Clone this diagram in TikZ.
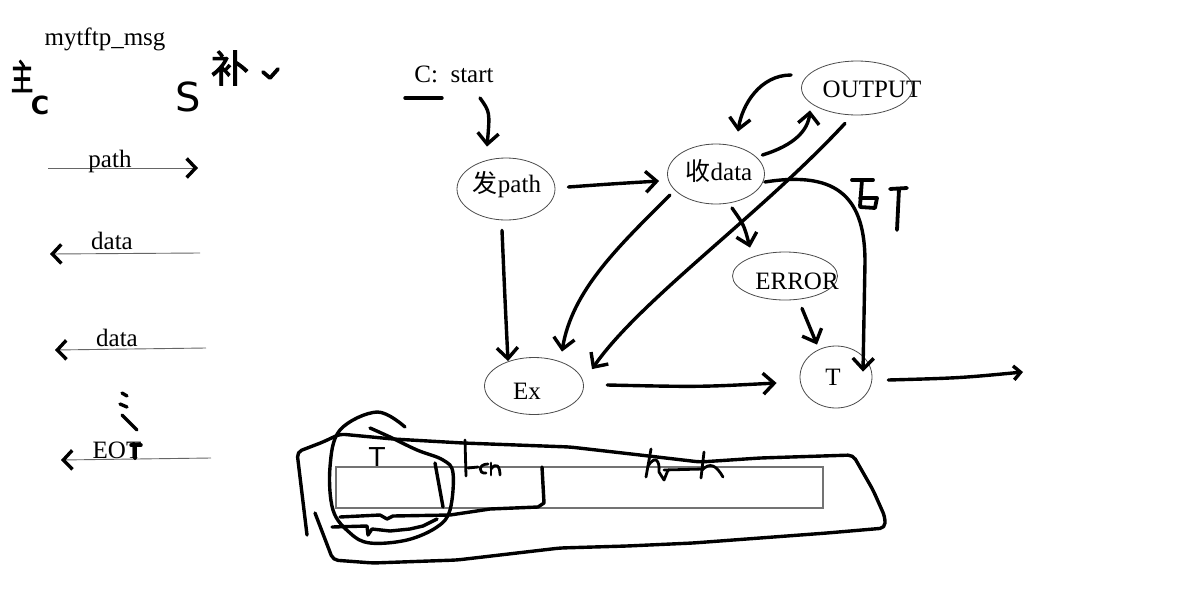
\documentclass[tikz,border=0pt]{standalone}
\usepackage{fontspec}
\setmainfont{Liberation Serif}
\newfontfamily\cjk{Noto Sans CJK SC}
\newfontfamily\cjkb{Noto Sans CJK SC}[FakeBold=2.5]
\newfontfamily\handf{DejaVu Sans}
\usetikzlibrary{shapes.geometric,arrows.meta}
\begin{document}
\begin{tikzpicture}[x=1pt,y=-1pt,
  hand/.style={line width=3.4pt,line cap=round,line join=round,black},
  thin hand/.style={hand,line width=2.8pt},
  harrow/.style={hand,-{Straight Barb[length=11pt,width=21pt]}},
  harrowS/.style={hand,-{Straight Barb[length=7pt,width=14pt]}},
  st/.style={ellipse,draw=black!70,line width=0.8pt,inner sep=0pt},
  lbl/.style={font=\fontsize{25}{29}\selectfont,inner sep=0pt,anchor=base},
  msg/.style={draw=black!60,line width=0.9pt,-{Straight Barb[color=black,line width=3.4pt,length=9pt,width=19pt]}},
  hw/.style={inner sep=0pt}]
\useasboundingbox[fill=white] (0,0) rectangle (1178,600);

% ---------------- left panel ----------------
\node[lbl] (title) at (105,45) {mytftp\_msg};
\node[hw,font=\cjkb\fontsize{36}{36}\selectfont] (zhu) at (22,76) {\scalebox{0.62}[1]{主}};
\node[hw,font=\handf\bfseries\fontsize{25}{25}\selectfont] (cC) at (40,105) {C};
\node[hw,font=\handf\fontsize{40}{40}\selectfont] (sS) at (188,97) {S};
\node[hw,font=\cjkb\fontsize{38}{38}\selectfont] (bu) at (230,68) {补};
\draw[hand,line width=3.8pt] (263,72) -- (270,78) -- (278,69);

\coordinate (m1s) at (48,168);  \coordinate (m1e) at (198,168);
\coordinate (m2s) at (200,253); \coordinate (m2e) at (50,254);
\coordinate (m3s) at (206,348); \coordinate (m3e) at (55,350);
\coordinate (m4s) at (211,458); \coordinate (m4e) at (61,460);
\draw[msg] (m1s) -- (m1e);
\draw[msg] (m2s) -- (m2e);
\draw[msg] (m3s) -- (m3e);
\draw[msg] (m4s) -- (m4e);
\node[lbl] (lpath) at (110,167) {path};
\node[lbl] (ldata1) at (112,249) {data};
\node[lbl] (ldata2) at (117,346) {data};
\node[lbl] (leot) at (117,458) {EOT};
\draw[hand,line width=3.5pt] (131,445) -- (141,445);
\draw[hand,line width=4pt] (135,445) -- (135,458);
% vertical ellipsis
\draw[hand] (122,393) -- (127,396);
\draw[hand] (120,404) -- (127,407);
\draw[hand] (122,415) -- (137,430);

% ---------------- state machine ----------------
\node[lbl] (cs) at (454,82) {C:\ \ start};
\draw[hand] (405,98) -- (442,98);

\node[st,minimum width=98pt,minimum height=62pt] (fp) at (506,189) {};
\node[lbl] (fpT) at (507,192) {{\cjk 发}path};
\node[st,minimum width=97pt,minimum height=60pt] (rd) at (716,174) {};
\node[lbl] (rdT) at (719,180) {{\cjk 收}data};
\node[st,minimum width=111pt,minimum height=54pt] (out) at (857,88) {};
\node[lbl] (outT) at (872,97) {OUTPUT};
\node[st,minimum width=105pt,minimum height=48pt] (err) at (785,276) {};
\node[lbl] (errT) at (797,289) {ERROR};
\node[st,minimum width=72pt,minimum height=62pt] (tn) at (836,377) {};
\node[lbl] (tT) at (833,385) {T};
\node[st,minimum width=99pt,minimum height=57pt] (ex) at (534,386) {};
\node[lbl] (exT) at (527,399) {Ex};
\coordinate (outEnd) at (1023,372);

\draw[harrow] ([shift={(26,16)}]cs.base) .. controls (490,112) .. ([shift={(-19,-11)}]fp.north);
\draw[harrow] ([shift={(13,-2)}]fp.east) .. controls (610,184) .. ([shift={(-8,7)}]rd.west);
\draw[harrow] ([shift={(-4,10)}]fp.south) .. controls (505,300) .. ([shift={(-26,4)}]ex.north);
\draw[harrow] ([shift={(-46,21)}]rd.center) .. controls (620,245) and (572,290) .. ([shift={(28,-5.5)}]ex.north);
\draw[harrow] ([shift={(-12,8)}]out.south) .. controls (760,215) and (640,300) .. ([shift={(58,12)}]ex.north);
\draw[harrow] ([shift={(-2.5,-19)}]rd.east) .. controls (795,145) and (808,130) .. ([shift={(-47,-5)}]out.south);
\draw[harrow] ([shift={(-10,-13)}]out.west) .. controls (760,75) and (742,105) .. ([shift={(22,-12)}]rd.north);
\draw[harrow] ([shift={(0,8)}]rd.east) .. controls (840,170) and (865,200) .. (865,262) -- ([shift={(27,26)}]tn.north);
\draw[harrow] ([shift={(16,34)}]rd.center) .. controls (744,225) .. ([shift={(-35,-4)}]err.north);
\draw[harrow] ([shift={(17,8)}]err.south) -- ([shift={(-19,-1)}]tn.north);
\draw[harrow] ([shift={(23.5,-1)}]ex.east) .. controls (700,387) .. ([shift={(-23,6)}]tn.west);
\draw[harrowS] ([shift={(16,3)}]tn.east) .. controls (960,378) .. (outEnd);

% handwritten EOT label
\draw[hand,line width=3.8pt] (852,180) -- (873,180);
\draw[hand,line width=3.8pt] (862,180) -- (860,206);
\draw[hand,line width=3.8pt] (860,198) -- (877,198) -- (875,208) -- (860,207);
\draw[hand,line width=3.8pt] (890,189) -- (907,188);
\draw[hand,line width=3.8pt] (899,189) -- (897,230);

% ---------------- bottom packet sketch ----------------
\draw[draw=black!55,line width=1.2pt] (336,467) rectangle (823,508);
\draw[hand,rounded corners=5pt] (307,535) -- (297,452) -- (323,442) -- (340,434) -- (393,439) -- (463,443)
  -- (570,447) -- (640,455) -- (700,462) -- (760,458) -- (853,455) -- (873,490) -- (885,517) -- (885,528)
  -- (827,533) -- (760,538) -- (693,543) -- (627,546) -- (560,548) -- (457,560) -- (373,563) -- (333,560) -- (315,513);
\draw[hand] plot[smooth,tension=0.6] coordinates {(405,427) (377,412) (340,430) (330,467) (333,510) (350,533)
  (370,543) (407,540) (437,527) (450,510) (453,473) (443,460) (417,450) (390,437) (370,428)};
\draw[hand] (340,517) -- (380,515) -- (387,519) -- (393,516) -- (450,515) -- (490,509) -- (538,507) -- (544,503) -- (542,467);
\draw[hand] (332,527) -- (367,526) -- (368,535) -- (372,529) -- (390,531) -- (410,529) -- (423,526) -- (437,519);
\draw[hand] (435,463) -- (443,507);
\node[hw,font=\handf\fontsize{26}{26}\selectfont] (bT) at (377,457) {T};
% len scribble
\draw[thin hand] (465,440) -- (466,476);
\draw[thin hand] (468,468) -- (478,467);
\draw[thin hand] (488,464) .. controls (478,464) and (478,474) .. (486,473);
\draw[thin hand] (491,463) -- (491,475);
\draw[thin hand] (491,469) .. controls (496,462) and (500,466) .. (500,475);
% data scribble
\draw[thin hand] (651,449) -- (646,477);
\draw[thin hand] (648,466) .. controls (655,455) and (660,460) .. (659,472) -- (664,480) -- (668,470);
\draw[thin hand] (664,470) -- (703,469);
\draw[thin hand] (704,452) -- (701,478);
\draw[thin hand] (702,470) .. controls (710,462) and (716,465) .. (723,477);
\end{tikzpicture}
\end{document}
